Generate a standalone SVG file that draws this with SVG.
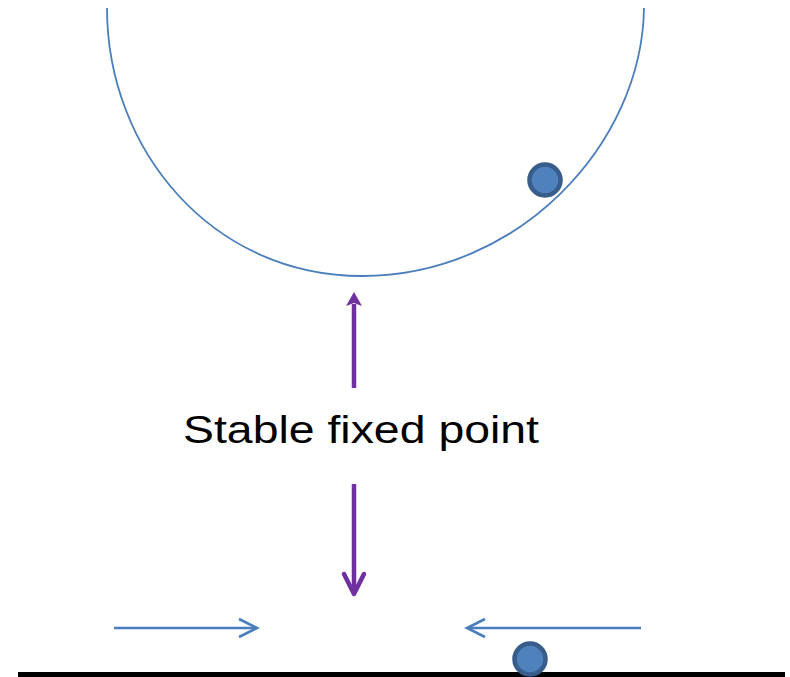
<svg xmlns="http://www.w3.org/2000/svg" width="790" height="677" viewBox="0 0 790 677">
<style>
.bowl{fill:none;stroke:#4a7ebb;stroke-width:1.8}
.ball{fill:#4f81bd;stroke:#385d8a;stroke-width:4.5}
.purple{fill:none;stroke:#7030a0;stroke-width:4.5}
.blue{fill:none;stroke:#4a7ebb;stroke-width:2.6}
.label{font-family:"Liberation Sans",Arial,sans-serif;font-size:38px;fill:#000}
</style>
<rect width="790" height="677" fill="#fff"/>
<g id="bowl">
<path class="bowl" d="M107,8 C107,150 212,276 362,276 C518,276 642,145 644,8"/>
</g>
<g id="ball-top"><circle class="ball" cx="545" cy="180" r="15.5"/></g>
<g id="ground"><line x1="18" y1="674.5" x2="785" y2="674.5" stroke="#000" stroke-width="5"/></g>
<g id="ball-bottom"><circle class="ball" cx="530" cy="659" r="15.5"/></g>
<g id="label"><text class="label" x="183" y="443" textLength="356" lengthAdjust="spacingAndGlyphs">Stable fixed point</text></g>
<g id="connectors">
<line class="purple" x1="354" y1="388" x2="354" y2="304"/>
<polygon points="354,292 362,306 354,303 346,306" fill="#7030a0"/>
<line class="purple" x1="354" y1="484" x2="354" y2="592"/>
<polyline class="purple" points="344,574 354,594 364,574" stroke-linecap="round" stroke-linejoin="round"/>
<line class="blue" x1="114" y1="628" x2="256" y2="628"/>
<polyline class="blue" points="239,619 257,628 239,637"/>
<line class="blue" x1="641" y1="628" x2="468" y2="628"/>
<polyline class="blue" points="485,619 467,628 485,637"/>
</g>
</svg>
